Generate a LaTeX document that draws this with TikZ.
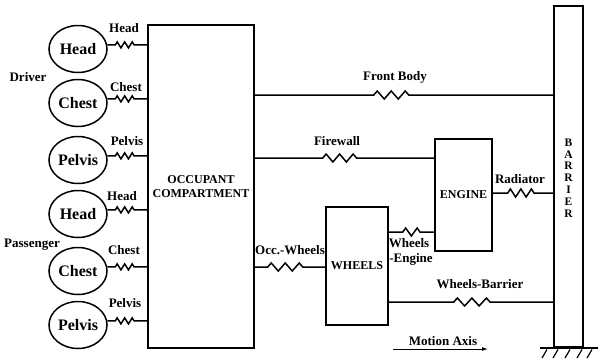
\documentclass[tikz,border=0pt]{standalone}
\usepackage{fontspec}
\setmainfont{Liberation Serif}
\usetikzlibrary{shapes.geometric,decorations.pathmorphing,arrows.meta}
\begin{document}
\begin{tikzpicture}[x=1pt,y=-1pt,line width=1.5pt,
  box/.style={draw,rectangle,inner sep=0pt,align=center,font=\bfseries\fontsize{12}{13.5}\selectfont},
  part/.style={draw,ellipse,minimum width=58pt,minimum height=47pt,inner sep=0pt,font=\bfseries\fontsize{16}{18}\selectfont},
  lbl/.style={inner sep=0pt,font=\bfseries\fontsize{13}{15}\selectfont},
  spring/.style n args={4}{decoration={zigzag,pre length=#1,post length=#2,segment length=#3,amplitude=#4},decorate}]
\useasboundingbox (0,0) rectangle (599,362);

% main blocks
\node[box,minimum width=106pt,minimum height=323pt] (occ) at (201,186.5) {OCCUPANT\\COMPARTMENT};
\node[box,minimum width=29pt,minimum height=341pt] (bar) at (568.5,176.5) {};
\node[inner sep=0pt,align=center,font=\bfseries\fontsize{11.5}{11.8}\selectfont] (bartxt) at (568.5,178) {B\\A\\R\\R\\I\\E\\R};
\node[box,minimum width=57pt,minimum height=112pt] (eng) at (463.5,195) {ENGINE};
\node[box,minimum width=62pt,minimum height=118pt] (whl) at (357,266) {WHEELS};

% occupant parts
\node[part] (dh) at (78,49) {Head};
\node[part] (dc) at (78,103) {Chest};
\node[part] (dp) at (78,160) {Pelvis};
\node[part] (ph) at (78,214) {Head};
\node[part] (pc) at (78,271) {Chest};
\node[part] (pp) at (78,325) {Pelvis};

\node[lbl] (ldrv) at (28,77) {Driver};
\node[lbl] (lpas) at (32,245) {Passenger};

\foreach \n in {dh,dc,dp,ph,pc,pp}
  \draw[spring={8pt}{11pt}{7.5pt}{3pt}] (\n.8) -- (occ.west |- \n.8);

\node[lbl] (l1) at (124,28) {Head};
\node[lbl] (l2) at (126,87) {Chest};
\node[lbl] (l3) at (127,141) {Pelvis};
\node[lbl] (l4) at (122,196) {Head};
\node[lbl] (l5) at (124,250) {Chest};
\node[lbl] (l6) at (125,303) {Pelvis};

% vehicle connections
\coordinate (yfb) at (0,95);
\coordinate (yfw) at (0,158);
\coordinate (yrad) at (0,193);
\coordinate (yow) at (0,267);
\coordinate (ywe) at (0,232);
\coordinate (ywb) at (0,302);

\draw[spring={119pt}{139pt}{14pt}{4pt}] (occ.east |- yfb) -- (bar.west |- yfb);
\draw[spring={68pt}{72pt}{13.5pt}{4pt}] (occ.east |- yfw) -- (eng.west |- yfw);
\draw[spring={15pt}{16pt}{10.5pt}{4pt}] (eng.east |- yrad) -- (bar.west |- yrad);
\draw[spring={13pt}{16pt}{14pt}{4pt}] (occ.east |- yow) -- (whl.west |- yow);
\draw[spring={14pt}{10pt}{11.5pt}{4pt}] (whl.east |- ywe) -- (eng.west |- ywe);
\draw[spring={65pt}{57pt}{14.5pt}{4pt}] (whl.east |- ywb) -- (bar.west |- ywb);

\node[lbl] (lfb) at (395,77) {Front Body};
\node[lbl] (lfw) at (337,141) {Firewall};
\node[lbl] (lrad) at (520,179) {Radiator};
\node[lbl] (low) at (290,250) {Occ.-Wheels};
\node[lbl] (lwe1) at (409,243) {Wheels};
\node[lbl] (lwe2) at (411,259) {-Engine};
\node[lbl] (lwb) at (480,284) {Wheels-Barrier};

% motion axis
\coordinate (ma1) at (393,349);
\coordinate (ma2) at (488,349);
\draw[line width=1pt,-{Latex[length=6pt,width=4pt]}] (ma1) -- (ma2);
\node[lbl] (lma) at (443,341) {Motion Axis};

% ground
\coordinate (g1) at (540,348);
\coordinate (g2) at (598,348);
\draw[line width=2.2pt] (g1) -- (g2);
\foreach \x in {547,558,570,582,592}
  \draw[line width=1.2pt] (\x,349.5) -- (\x-5,358);
\end{tikzpicture}
\end{document}
